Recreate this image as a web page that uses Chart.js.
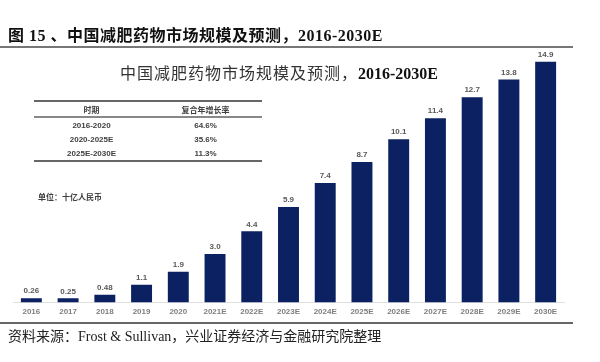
<!DOCTYPE html>
<html>
<head>
<meta charset="utf-8">
<script src="https://cdn.jsdelivr.net/npm/chart.js@4.4.0/dist/chart.umd.min.js"></script>
<style>
    html, body { margin: 0; padding: 0; background: #fff; }
    #page { position: relative; width: 600px; height: 362px; overflow: hidden; }
    #chart-box { position: absolute; left: 0; top: 0; width: 600px; height: 362px; }
    .abs { position: absolute; white-space: nowrap; }
    #header { left: 8px; top: 22px; font: bold 16px "Liberation Serif", "Noto Sans CJK SC", serif; color: #111; letter-spacing: 0.5px; }
    #header-line { left: 0; top: 46px; width: 573px; height: 2px; background: #777; }
    #inner-title { left: 120px; top: 60px; font: 16px "Liberation Serif", "Noto Sans CJK SC", serif; color: #333; }
    #inner-title span { letter-spacing: 1px; }
    #inner-title b { font-weight: bold; color: #111; }
    #cagr { left: 34px; top: 100px; width: 228px; border-collapse: collapse;
            font: bold 8px "Liberation Sans", "Noto Sans CJK SC", sans-serif; color: #404040; }
    #cagr th, #cagr td { text-align: center; padding: 0; height: 14px; }
    #cagr thead tr { border-top: 2px solid #666; border-bottom: 2px solid #888; }
    #cagr tbody tr:last-child { border-bottom: 2px solid #666; }
    #unit { left: 38px; top: 191px; font: bold 8px "Liberation Sans", "Noto Sans CJK SC", sans-serif; color: #404040; }
    #footer-line { left: 0; top: 322px; width: 573px; height: 2px; background: #666; }
    #source { left: 8px; top: 325px; font: 14px "Liberation Serif", "Noto Sans CJK SC", serif; color: #222; }
</style>
</head>
<body>
<div id="page">
    <div id="chart-box"><canvas id="market-chart"></canvas></div>
    <div class="abs" id="header">图 15 、中国减肥药物市场规模及预测，2016-2030E</div>
    <div class="abs" id="header-line"></div>
    <div class="abs" id="inner-title"><span>中国减肥药物市场规模及预测，</span><b>2016-2030E</b></div>
    <table class="abs" id="cagr">
        <thead><tr><th id="cagr-h1"></th><th id="cagr-h2"></th></tr></thead>
        <tbody id="cagr-body"></tbody>
    </table>
    <div class="abs" id="unit">单位：十亿人民币</div>
    <div class="abs" id="footer-line"></div>
    <div class="abs" id="source">资料来源：Frost &amp; Sullivan，兴业证券经济与金融研究院整理</div>
</div>
<script>
const years = ['2016', '2017', '2018', '2019', '2020', '2021E', '2022E', '2023E',
    '2024E', '2025E', '2026E', '2027E', '2028E', '2029E', '2030E'];
const marketSize = [0.26, 0.25, 0.48, 1.1, 1.9, 3.0, 4.4, 5.9, 7.4, 8.7, 10.1, 11.4, 12.7, 13.8, 14.9];
const valueLabels = ['0.26', '0.25', '0.48', '1.1', '1.9', '3.0', '4.4', '5.9', '7.4', '8.7',
    '10.1', '11.4', '12.7', '13.8', '14.9'];

const cagrHeaders = ['时期', '复合年增长率'];
const cagrPeriods = ['2016-2020', '2020-2025E', '2025E-2030E'];
const cagrRates = ['64.6%', '35.6%', '11.3%'];

function fillCagrTable() {
    document.getElementById('cagr-h1').textContent = cagrHeaders[0];
    document.getElementById('cagr-h2').textContent = cagrHeaders[1];
    const body = document.getElementById('cagr-body');
    cagrPeriods.forEach((period, i) => {
        const row = document.createElement('tr');
        const c1 = document.createElement('td');
        const c2 = document.createElement('td');
        c1.textContent = period;
        c2.textContent = cagrRates[i];
        row.appendChild(c1);
        row.appendChild(c2);
        body.appendChild(row);
    });
}

// value labels above each bar
const barLabels = {
    id: 'barLabels',
    afterDatasetsDraw(chart) {
        const ctx = chart.ctx;
        const meta = chart.getDatasetMeta(0);
        ctx.save();
        ctx.font = 'bold 8px "Liberation Sans", Arial, sans-serif';
        ctx.fillStyle = '#595959';
        ctx.textAlign = 'center';
        ctx.textBaseline = 'bottom';
        meta.data.forEach((bar, i) => {
            ctx.fillText(valueLabels[i], bar.x, bar.y - 3);
        });
        ctx.restore();
    }
};

function drawMarketChart() {
    const ctx = document.getElementById('market-chart').getContext('2d');
    new Chart(ctx, {
        type: 'bar',
        data: {
            labels: years,
            datasets: [{
                data: marketSize,
                backgroundColor: '#0b2161',
                barPercentage: 0.57,
                categoryPercentage: 1.0
            }]
        },
        options: {
            responsive: true,
            maintainAspectRatio: false,
            animation: false,
            layout: { padding: { left: 13, right: 36, top: 44, bottom: 40 } },
            plugins: {
                legend: { display: false },
                tooltip: { enabled: false }
            },
            scales: {
                x: {
                    grid: { display: false, drawTicks: false },
                    border: { display: true, color: '#e0e0e0' },
                    ticks: {
                        padding: 5,
                        color: '#7f7f7f',
                        font: { size: 8, weight: 'bold', family: '"Liberation Sans", Arial, sans-serif' }
                    }
                },
                y: {
                    display: false,
                    min: 0,
                    max: 16
                }
            }
        },
        plugins: [barLabels]
    });
}

fillCagrTable();
drawMarketChart();
</script>
</body>
</html>
